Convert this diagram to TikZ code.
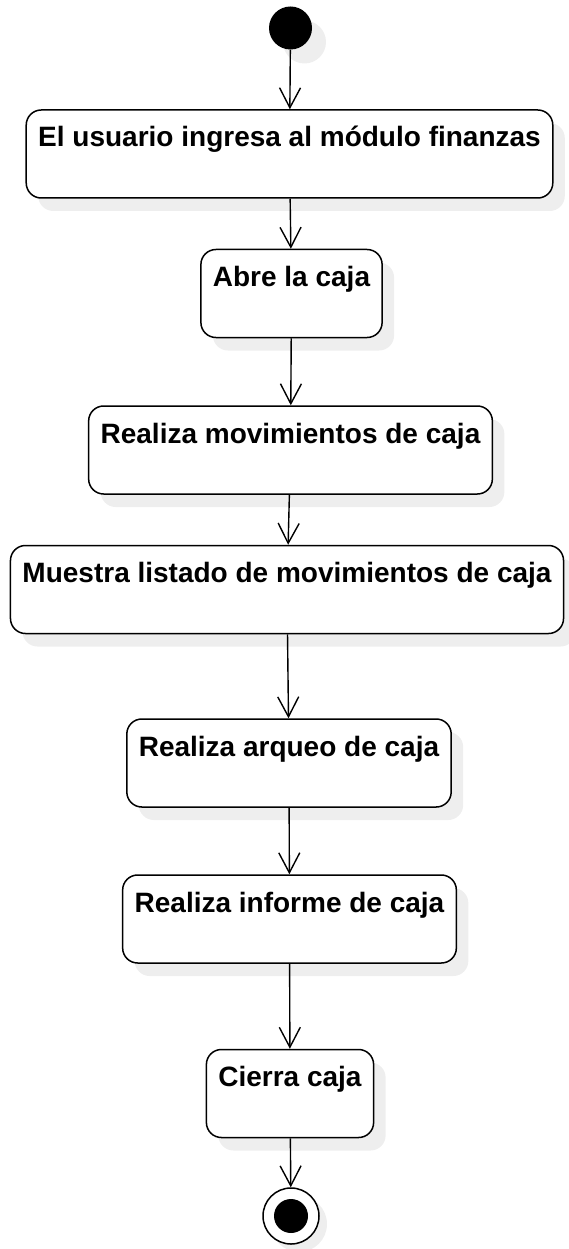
\documentclass[tikz,border=0pt]{standalone}
\usepackage{fontspec}
\setmainfont{Liberation Sans}
\usepackage{xcolor}
\usepackage{tikz}
\usetikzlibrary{arrows.meta, shadows}
\definecolor{sombra}{RGB}{238, 238, 238}

\begin{document}
\begin{tikzpicture}[x=1pt, y=-1pt, font=\fontsize{28}{34}\selectfont\bfseries,
  actividad/.style={draw=black, fill=white, line width=1.5pt, rounded corners=15pt,
    inner xsep=12pt, inner ysep=0pt, text height=37pt, text depth=51pt,
    drop shadow={shadow xshift=12pt, shadow yshift=-13pt, fill=sombra, opacity=1}},
  inicio/.style={circle, fill=black, inner sep=0pt, minimum size=43pt,
    drop shadow={shadow xshift=14pt, shadow yshift=-14pt, fill=sombra, opacity=1}},
  fin/.style={circle, draw=black, fill=white, line width=1.5pt, inner sep=0pt, minimum size=56pt,
    path picture={\fill[black] (path picture bounding box.center) circle (17pt);},
    drop shadow={shadow xshift=8pt, shadow yshift=-8pt, fill=sombra, opacity=1}},
  flujo/.style={-{Straight Barb[length=20pt, width=21pt, line width=1.4pt]}, line width=1.4pt}]

  % Margenes de la figura
  \useasboundingbox (0,0) rectangle (569,1249);

  % --- Nodo inicial ---
  \node[inicio] (inicio) at (290.5, 28) {};

  % --- Actividades de la caja ---
  \node[actividad] (ingresa) at (289.5, 154) {El usuario ingresa al módulo finanzas};
  \node[actividad] (abre) at (291.5, 293.5) {Abre la caja};
  \node[actividad] (movimientos) at (290.5, 450) {Realiza movimientos de caja};
  \node[actividad] (listado) at (287, 589.5) {Muestra listado de movimientos de caja};
  \node[actividad] (arqueo) at (289, 763) {Realiza arqueo de caja};
  \node[actividad] (informe) at (289.5, 919) {Realiza informe de caja};
  \node[actividad] (cierra) at (290, 1093.5) {Cierra caja};

  % --- Nodo final ---
  \node[fin] (fin) at (291, 1216) {};

  % Flujo entre actividades
  \draw[flujo] (inicio) -- (ingresa);
  \draw[flujo] (ingresa) -- (abre);
  \draw[flujo] (abre) -- (movimientos);
  \draw[flujo] (movimientos) -- (listado);
  \draw[flujo] (listado) -- (arqueo);
  \draw[flujo] (arqueo) -- (informe);
  \draw[flujo] (informe) -- (cierra);
  \draw[flujo] (cierra) -- (fin);

\end{tikzpicture}
\end{document}
